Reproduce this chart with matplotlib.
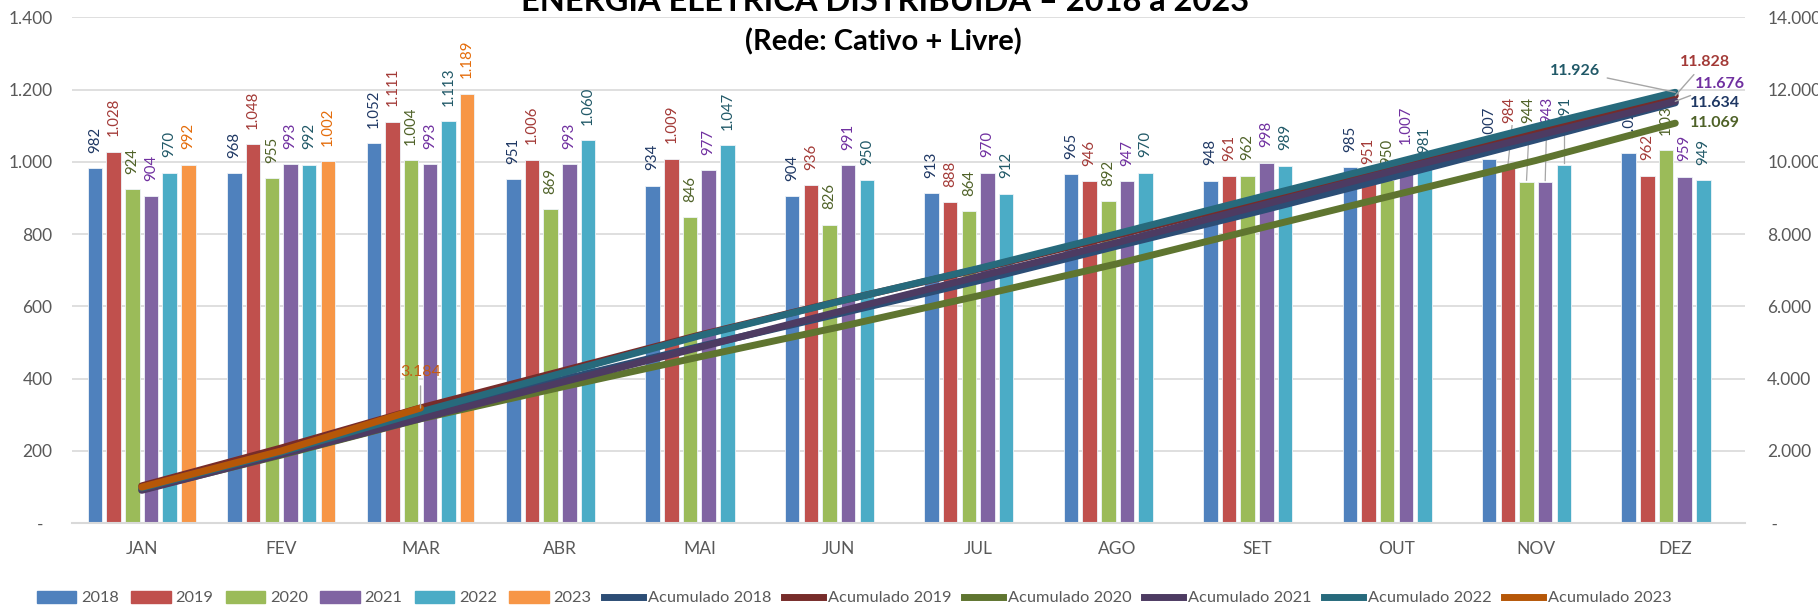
import matplotlib
matplotlib.use("Agg")
import matplotlib.pyplot as plt
import numpy as np
from matplotlib.patches import Patch
from matplotlib.lines import Line2D

plt.rcParams['font.family'] = ['Lato', 'DejaVu Sans']

# ---------------- data ----------------
months = ["JAN", "FEV", "MAR", "ABR", "MAI", "JUN", "JUL", "AGO", "SET", "OUT", "NOV", "DEZ"]
years = ["2018", "2019", "2020", "2021", "2022", "2023"]
v2018 = [982, 968, 1052, 951, 934, 904, 913, 965, 948, 985, 1007, 1023]
v2019 = [1028, 1048, 1111, 1006, 1009, 936, 888, 946, 961, 951, 984, 962]
v2020 = [924, 955, 1004, 869, 846, 826, 864, 892, 962, 950, 944, 1033]
v2021 = [904, 993, 993, 993, 977, 991, 970, 947, 998, 1007, 943, 959]
v2022 = [970, 992, 1113, 1060, 1047, 950, 912, 970, 989, 981, 991, 949]
v2023 = [992, 1002, 1189]
series = [v2018, v2019, v2020, v2021, v2022, v2023]
# year-end cumulative labels as shown on the chart
cum_labels = {"2018": 11634, "2019": 11828, "2020": 11069, "2021": 11676, "2022": 11926, "2023": 3184}

# ---------------- styles ----------------
bar_colors = ["#4F81BD", "#C0504D", "#9BBB59", "#8064A2", "#4BACC6", "#F79646"]
lbl_colors = ["#1F3864", "#A33A37", "#4F6228", "#7030A0", "#215968", "#E46C0A"]
line_colors = ["#2C4D75", "#772C2A", "#5F7530", "#4D3B62", "#276A7C", "#B65708"]
cum_lbl_colors = ["#1F3864", "#A33A37", "#4F6228", "#7030A0", "#215968", "#C55A11"]


def fmt(v):
    if v == 0:
        return "-"
    return f"{int(round(v)):,}".replace(",", ".")


W, H = 1818, 606
fig = plt.figure(figsize=(W / 100, H / 100), dpi=100)
L, R, T, B = 72, 1745, 17.3, 523
ax = fig.add_axes([L / W, 1 - B / H, (R - L) / W, (B - T) / H])
ax2 = ax.twinx()

x = np.arange(len(months))
pitch, width = 0.134, 0.104
n = len(years)
for k, (yr, vals) in enumerate(zip(years, series)):
    xs = x[:len(vals)] + (k - (n - 1) / 2) * pitch
    ax.bar(xs, vals, width=width, color=bar_colors[k], edgecolor="#EEF3F8",
           linewidth=0.6, zorder=2)

LBL = 10.8
# bar labels (NOV labels lifted with leader lines, as in the source)
lifted = {(10, 1): 1108, (10, 2): 1108, (10, 3): 1108, (10, 4): 1108}
for k, vals in enumerate(series):
    for i, v in enumerate(vals):
        xc = i + (k - (n - 1) / 2) * pitch
        if (i, k) in lifted:
            yl = lifted[(i, k)]
            ax.plot([xc, xc + 0.01 * (4 - k)], [v + 5, yl - 8], color="#A6A6A6", lw=0.9, zorder=3)
            ax.text(xc + 0.012, yl, fmt(v), rotation=90, ha="center", va="bottom",
                    fontsize=LBL, color=lbl_colors[k], zorder=3)
        else:
            ax.annotate(fmt(v), (xc, v), xytext=(0, 11), textcoords="offset points",
                        rotation=90, ha="center", va="bottom", fontsize=LBL,
                        color=lbl_colors[k], zorder=3)

# cumulative lines
LW = 5.0
for k, vals in enumerate(series):
    cum = np.cumsum(vals)
    ax2.plot(x[:len(vals)], cum, color=line_colors[k], lw=LW, solid_capstyle="round", zorder=3)

# cumulative end labels: offset in pixels from the end point
cum_offsets = {
    "2018": ((40, 0), False),
    "2019": ((30, 34), True),
    "2020": ((40, 0), False),
    "2021": ((45, 17), True),
    "2022": ((-100, 21), True),
    "2023": ((0, 36), True),
}
for k, yr in enumerate(years):
    vals = series[k]
    cum = np.cumsum(vals)
    (dx, dy), leader = cum_offsets[yr]
    kw = dict(arrowprops=dict(arrowstyle="-", color="#A6A6A6", lw=1.0,
                              shrinkA=3, shrinkB=0)) if leader else {}
    ax2.annotate(fmt(cum_labels[yr]), (len(vals) - 1, cum[-1]), xytext=(dx, dy),
                 textcoords="offset pixels", ha="center", va="center",
                 fontsize=11.5, fontweight=("normal" if yr == "2023" else "bold"),
                 color=cum_lbl_colors[k], zorder=5, **kw)

# axes formatting
ax.set_xlim(-0.5, len(months) - 0.5)
ax.set_ylim(0, 1400)
ax2.set_ylim(0, 14000)
ax.set_yticks(np.arange(0, 1401, 200))
ax2.set_yticks(np.arange(0, 14001, 2000))
ax.set_yticklabels([fmt(v) + ("  " if v == 0 else "") for v in np.arange(0, 1401, 200)])
ax2.set_yticklabels([(" " if v == 0 else "") + fmt(v) for v in np.arange(0, 14001, 2000)])
ax.set_xticks(x)
ax.set_xticklabels(months)
ax.grid(axis="y", color="#D9D9D9", lw=1.2, zorder=0)
ax.set_axisbelow(True)
for a in (ax, ax2):
    for s in a.spines.values():
        s.set_visible(False)
ax.spines["bottom"].set_visible(True)
ax.spines["bottom"].set_color("#D9D9D9")
ax.spines["bottom"].set_linewidth(1.5)
ax.tick_params(axis="y", length=0, pad=14, labelsize=12.5, labelcolor="#595959")
ax.tick_params(axis="x", length=0, pad=13, labelsize=12.5, labelcolor="#595959")
ax2.tick_params(axis="y", length=0, pad=16, labelsize=12.5, labelcolor="#595959")

# titles
fig.text(0.487, 1 - 11 / H, "ENERGIA ELÉTRICA DISTRIBUÍDA – 2018 a 2023", ha="center",
         va="baseline", fontsize=23.5, fontweight="bold", color="black")
fig.text(0.486, 1 - 42 / H, "(Rede: Cativo + Livre)", ha="center", va="center",
         fontsize=21, fontweight="bold", color="black")

# legend
handles = [Patch(facecolor=c, edgecolor=c) for c in bar_colors]
handles += [Line2D([0], [0], color=c, lw=LW) for c in line_colors]
labels = years + [f"Acumulado {y}" for y in years]
fig.legend(handles, labels, loc="center", bbox_to_anchor=(0.470, 1 - 598 / H), ncol=12,
           frameon=False, fontsize=11.8, handlelength=2.4, handleheight=0.75,
           handletextpad=0.3, columnspacing=0.75, labelcolor="#595959")

fig.savefig("out.png", dpi=100)
